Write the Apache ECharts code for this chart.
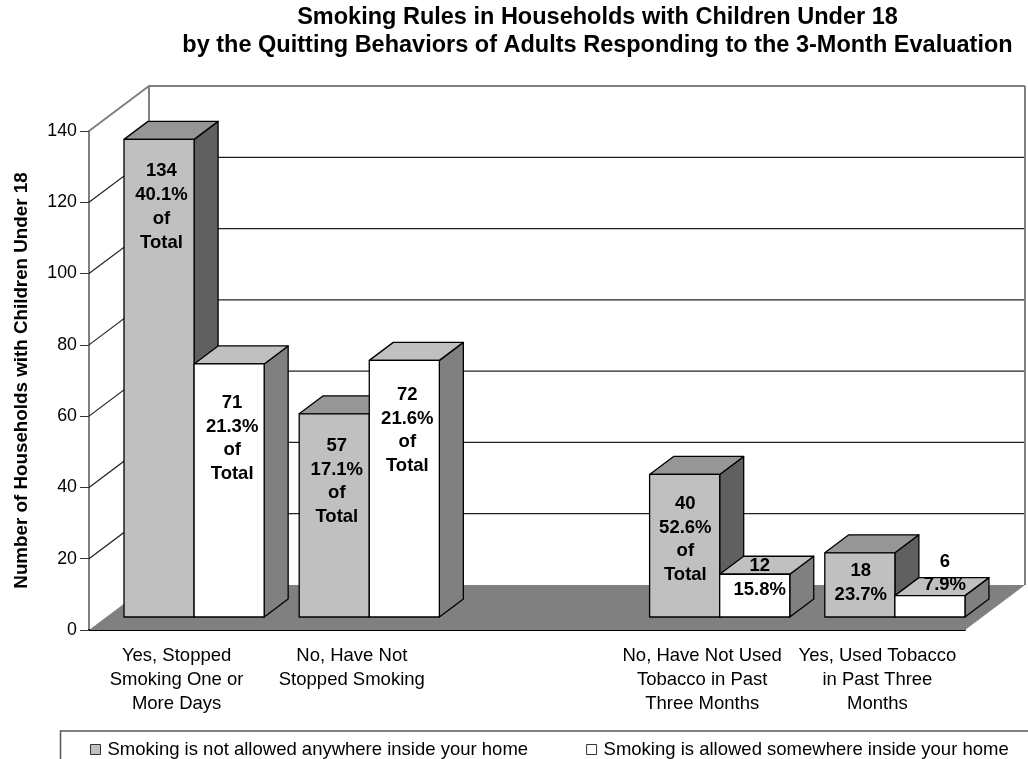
<!DOCTYPE html>
<html>
<head>
<meta charset="utf-8">
<style>html,body{margin:0;padding:0;background:#fff}#chart{width:1028px;height:759px}</style>
<script src="https://cdn.jsdelivr.net/npm/echarts@6/dist/echarts.min.js"></script>
</head>
<body>
<div id="chart"></div>
<script>
// Household smoking rules by quitting behaviour
const categories = [
  'Yes, Stopped\nSmoking One or\nMore Days',
  'No, Have Not\nStopped Smoking',
  '',
  'No, Have Not Used\nTobacco in Past\nThree Months',
  'Yes, Used Tobacco\nin Past Three\nMonths'
];
const notAllowedValues = [134, 57, null, 40, 18];
const allowedValues = [71, 72, null, 12, 6];
const notAllowedShares = ['40.1%', '17.1%', null, '52.6%', '23.7%'];
const allowedShares = ['21.3%', '21.6%', null, '15.8%', '7.9%'];
const notAllowedOfTotal = [true, true, false, true, false];
const allowedOfTotal = [true, true, false, false, false];
const valueTicks = [0, 20, 40, 60, 80, 100, 120, 140];

// Label placement relative to the top-centre of each bar front
const notAllowedLabelShift = [[2.4, 32], [2.6, 32], null, [0.7, 29.5], [1, 18.5]];
const allowedLabelShift = [[3, 39], [3, 34.5], null, [5, -8.5], [15, -34]];

// Projection of the 3-D box, in pixels
const WALL_DX = 60, WALL_DY = -45;
const BAR_SHIFT_X = 35, BAR_SHIFT_Y = -13;
const BAR_DX = 24, BAR_DY = -18;
const FONT_FAMILY = '"Liberation Sans", Arial, sans-serif';
const LABEL_FONT = 'bold 18.5px ' + FONT_FAMILY;
const LINE_H = 23.7;

function wallLines(params, api) {
  const v = api.value(1);
  const band = api.size([1, 0])[0];
  const p = api.coord([0, v]);
  const x0 = p[0] - band / 2;
  const x1 = x0 + band * categories.length;
  const y = p[1];
  const edge = v === valueTicks[valueTicks.length - 1];
  const style = { stroke: edge ? '#808080' : '#222', lineWidth: edge ? 2 : 1.2, fill: null };
  const children = [];
  if (v > 0) {
    children.push({
      type: 'polyline',
      shape: { points: [[x0, y], [x0 + WALL_DX, y + WALL_DY], [x1 + WALL_DX, y + WALL_DY]] },
      style: style
    });
  }
  if (edge) {
    const base = api.coord([0, 0])[1];
    children.push({
      type: 'line',
      shape: { x1: x0 + WALL_DX, y1: y + WALL_DY, x2: x0 + WALL_DX, y2: base + WALL_DY },
      style: style
    });
    children.push({
      type: 'line',
      shape: { x1: x1 + WALL_DX, y1: y + WALL_DY, x2: x1 + WALL_DX, y2: base + WALL_DY },
      style: style
    });
  }
  return { type: 'group', children: children };
}

function floorPlane(params, api) {
  const band = api.size([1, 0])[0];
  const p = api.coord([0, 0]);
  const x0 = p[0] - band / 2;
  const x1 = x0 + band * categories.length;
  const y = p[1];
  return {
    type: 'polygon',
    shape: { points: [[x0, y], [x0 + WALL_DX, y + WALL_DY], [x1 + WALL_DX, y + WALL_DY], [x1, y]] },
    style: { fill: '#808080', stroke: null }
  };
}

function barRenderer(slot, colors, shares, ofTotal, shifts) {
  return function (params, api) {
    const idx = api.value(0);
    const value = api.value(1);
    if (value == null || isNaN(value)) return null;
    const band = api.size([1, 0])[0];
    const width = band * 0.4;
    const top = api.coord([idx, value]);
    const base = api.coord([idx, 0]);
    const xL = top[0] - band / 2 + BAR_SHIFT_X + slot * width;
    const xR = xL + width;
    const yT = top[1] + BAR_SHIFT_Y;
    const yB = base[1] + BAR_SHIFT_Y;
    const edge = { stroke: '#000', lineWidth: 1.3, lineJoin: 'round' };
    const lines = [String(value), shares[idx]];
    if (ofTotal[idx]) lines.push('of', 'Total');
    const shift = shifts[idx];
    return {
      type: 'group',
      children: [
        {
          type: 'polygon',
          shape: { points: [[xR, yB], [xR + BAR_DX, yB + BAR_DY], [xR + BAR_DX, yT + BAR_DY], [xR, yT]] },
          style: Object.assign({ fill: colors.side }, edge)
        },
        {
          type: 'polygon',
          shape: { points: [[xL, yT], [xL + BAR_DX, yT + BAR_DY], [xR + BAR_DX, yT + BAR_DY], [xR, yT]] },
          style: Object.assign({ fill: colors.top }, edge)
        },
        {
          type: 'rect',
          shape: { x: xL, y: yT, width: width, height: yB - yT },
          style: Object.assign({ fill: colors.front }, edge)
        },
        {
          type: 'text',
          z2: 10,
          style: {
            text: lines.join('\n'),
            x: (xL + xR) / 2 + shift[0],
            y: yT + shift[1] - LINE_H / 2,
            align: 'center',
            verticalAlign: 'top',
            font: LABEL_FONT,
            lineHeight: LINE_H,
            fill: '#000'
          }
        }
      ]
    };
  };
}

const NAME_A = 'Smoking is not allowed anywhere inside your home';
const NAME_B = 'Smoking is allowed somewhere inside your home';

const chart = echarts.init(document.getElementById('chart'));
chart.setOption({
  animation: false,
  backgroundColor: '#fff',
  textStyle: { fontFamily: FONT_FAMILY },
  title: {
    text: 'Smoking Rules in Households with Children Under 18\nby the Quitting Behaviors of Adults Responding to the 3-Month Evaluation',
    left: 592.5,
    top: -1,
    textAlign: 'center',
    textStyle: { fontSize: 23.5, fontWeight: 'bold', color: '#000', lineHeight: 28, fontFamily: FONT_FAMILY }
  },
  grid: { left: 89, right: 63, top: 131, bottom: 129, containLabel: false },
  xAxis: {
    type: 'category',
    data: categories,
    axisLine: { lineStyle: { color: '#000', width: 2 } },
    axisTick: { length: 9, alignWithLabel: false, lineStyle: { color: '#444', width: 1 } },
    axisLabel: {
      interval: 0,
      margin: 14.5,
      fontSize: 18.5,
      lineHeight: 23.7,
      color: '#000',
      fontFamily: FONT_FAMILY
    },
    splitLine: { show: false }
  },
  yAxis: {
    type: 'value',
    min: 0,
    max: 140,
    interval: 20,
    name: 'Number of Households with Children Under 18',
    nameLocation: 'middle',
    nameGap: 58,
    nameTextStyle: { fontSize: 18.8, fontWeight: 'bold', color: '#000', fontFamily: FONT_FAMILY },
    axisLine: { show: true, lineStyle: { color: '#808080', width: 2 } },
    axisTick: { show: true, length: 9, lineStyle: { color: '#333', width: 1 } },
    axisLabel: { margin: 12, fontSize: 17.8, color: '#000', padding: [4, 0, 0, 0], fontFamily: FONT_FAMILY },
    splitLine: { show: false }
  },
  legend: {
    left: 85,
    top: 735,
    itemWidth: 10,
    itemHeight: 10,
    itemGap: 58,
    selectedMode: false,
    textStyle: { fontSize: 18.5, color: '#000', padding: [0, 0, 0, 2], fontFamily: FONT_FAMILY },
    data: [
      { name: NAME_A, icon: 'rect', itemStyle: { color: '#C0C0C0', borderColor: '#333', borderWidth: 1 } },
      { name: NAME_B, icon: 'rect', itemStyle: { color: '#FFFFFF', borderColor: '#333', borderWidth: 1 } }
    ]
  },
  graphic: [
    {
      type: 'polyline',
      silent: true,
      shape: { points: [[60.5, 760], [60.5, 731], [1030, 731]] },
      style: { fill: null, stroke: '#555', lineWidth: 1.5 }
    }
  ],
  series: [
    {
      name: 'floor',
      type: 'custom',
      silent: true,
      z: 1,
      renderItem: floorPlane,
      data: [[0, 0]],
      encode: { x: 0, y: 1 }
    },
    {
      name: 'walls',
      type: 'custom',
      silent: true,
      z: 2,
      renderItem: wallLines,
      data: valueTicks.map(function (t) { return [0, t]; }),
      encode: { x: 0, y: 1 }
    },
    {
      name: NAME_A,
      type: 'custom',
      silent: true,
      z: 3,
      itemStyle: { color: '#C0C0C0' },
      renderItem: barRenderer(0, { front: '#C0C0C0', top: '#969696', side: '#606060' }, notAllowedShares, notAllowedOfTotal, notAllowedLabelShift),
      data: notAllowedValues.map(function (v, i) { return [i, v]; }),
      encode: { x: 0, y: 1 }
    },
    {
      name: NAME_B,
      type: 'custom',
      silent: true,
      z: 4,
      itemStyle: { color: '#FFFFFF' },
      renderItem: barRenderer(1, { front: '#FFFFFF', top: '#C0C0C0', side: '#808080' }, allowedShares, allowedOfTotal, allowedLabelShift),
      data: allowedValues.map(function (v, i) { return [i, v]; }),
      encode: { x: 0, y: 1 }
    }
  ]
});
</script>
</body>
</html>
